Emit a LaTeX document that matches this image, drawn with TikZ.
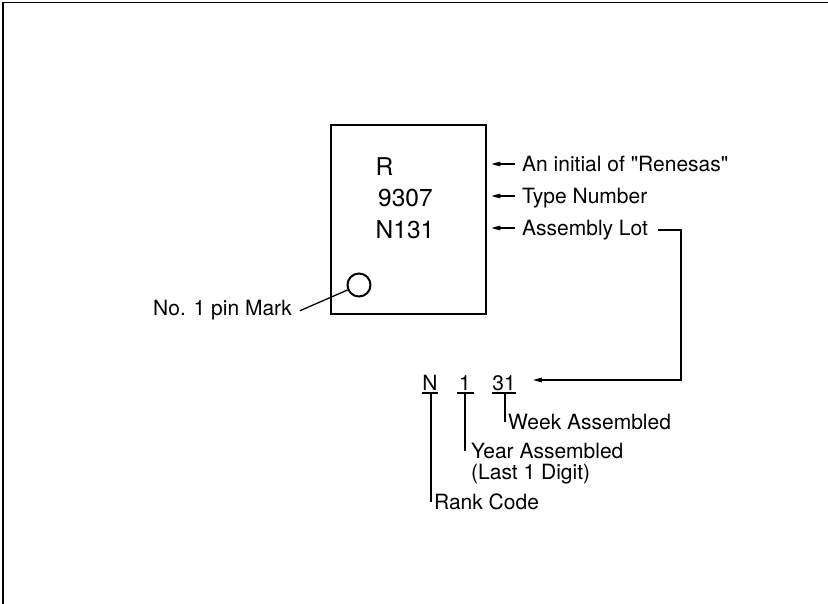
\documentclass[tikz,border=0pt]{standalone}
\usepackage{fontspec}
\setmainfont{TeX Gyre Heros}[Ligatures=TeXOff]
\usetikzlibrary{arrows.meta,calc}
\begin{document}
\begin{tikzpicture}[x=1pt,y=-1pt,
  lab/.style={inner sep=0pt, font=\fontsize{21}{21}\selectfont, anchor=base west},
  chiptxt/.style={inner sep=0pt, font=\fontsize{24.5}{24.5}\selectfont, anchor=base west},
  digit/.style={inner sep=0pt, font=\fontsize{21}{21}\selectfont, anchor=base},
  conn/.style={line width=1.3pt},
  arr/.style={conn, -{Triangle[length=9pt,width=4.5pt]}}
]
\useasboundingbox (0,0) rectangle (828,604);
% frame
\draw[line width=1.2pt] (828,2.5) -- (3,2.5) -- (3,604);

% chip
\node[draw, line width=2.5pt, minimum width=155pt, minimum height=189pt, inner sep=0pt] (chip) at (408.5,219.5) {};
\node[chiptxt] (tR) at (375.5,176) {R};
\node[chiptxt] (t9307) at (378,206.7) {9307};
\node[chiptxt] (tN131) at (375.5,239) {N131};
\node[circle, draw, line width=2pt, minimum size=23pt, inner sep=0pt] (pin) at (359,285) {};

% right labels
\node[lab] (l1) at (522,171.5) {An initial of "Renesas"};
\node[lab] (l2) at (522,203.5) {Type Number};
\node[lab] (l3) at (522,235.5) {Assembly Lot};
\draw[arr] ($(l1.base west)+(-7,-7.5)$) -- ($(chip.east |- l1.base west)+(4,-7.5)$);
\draw[arr] ($(l2.base west)+(-7,-7.5)$) -- ($(chip.east |- l2.base west)+(4,-7.5)$);
\draw[arr] ($(l3.base west)+(-7,-7.5)$) -- ($(chip.east |- l3.base west)+(4,-7.5)$);

% pin mark label
\node[lab, anchor=base east] (pinlab) at (292,315.7) {No. 1 pin Mark};
\draw[conn] ($(pinlab.base east)+(8,-5)$) -- (pin);

% lot code
\node[digit] (nN) at (430,390) {N};
\node[digit] (nOne) at (465,390) {1};
\node[digit] (n31) at (504,390) {31};
\draw[conn] ($(nN.base)+(-8,3)$) -- ($(nN.base)+(8,3)$);
\draw[conn] ($(nOne.base)+(-8.5,3)$) -- ($(nOne.base)+(8.5,3)$);
\draw[conn] ($(n31.base)+(-12,3)$) -- ($(n31.base)+(12,3)$);

\coordinate (bend) at (681,380);
\draw[arr] ($(l3.base east)+(10,-5.5)$) -| (bend) -- ($(n31.base east |- bend)+(17,0)$);

\node[lab] (week) at (508,429.5) {Week Assembled};
\node[lab] (year) at (471,458.3) {Year Assembled};
\node[lab] (yeard) at (471,479.3) {(Last 1 Digit)};
\node[lab] (rank) at (434,509.5) {Rank Code};

\coordinate (uN) at ($(nN.base)+(1,3)$);
\coordinate (uOne) at ($(nOne.base)+(0,3)$);
\coordinate (u31) at ($(n31.base)+(1,3)$);
\coordinate (weekmid) at ($(week.base west)+(0,-7.5)$);
\coordinate (yearmid) at ($(year.base west)+(0,-7.5)$);
\coordinate (rankmid) at ($(rank.base west)+(0,-7.5)$);
\draw[conn] (u31) -- (u31 |- weekmid);
\draw[conn] (uOne) -- (uOne |- yearmid);
\draw[conn] (uN) -- (uN |- rankmid);
\end{tikzpicture}
\end{document}
